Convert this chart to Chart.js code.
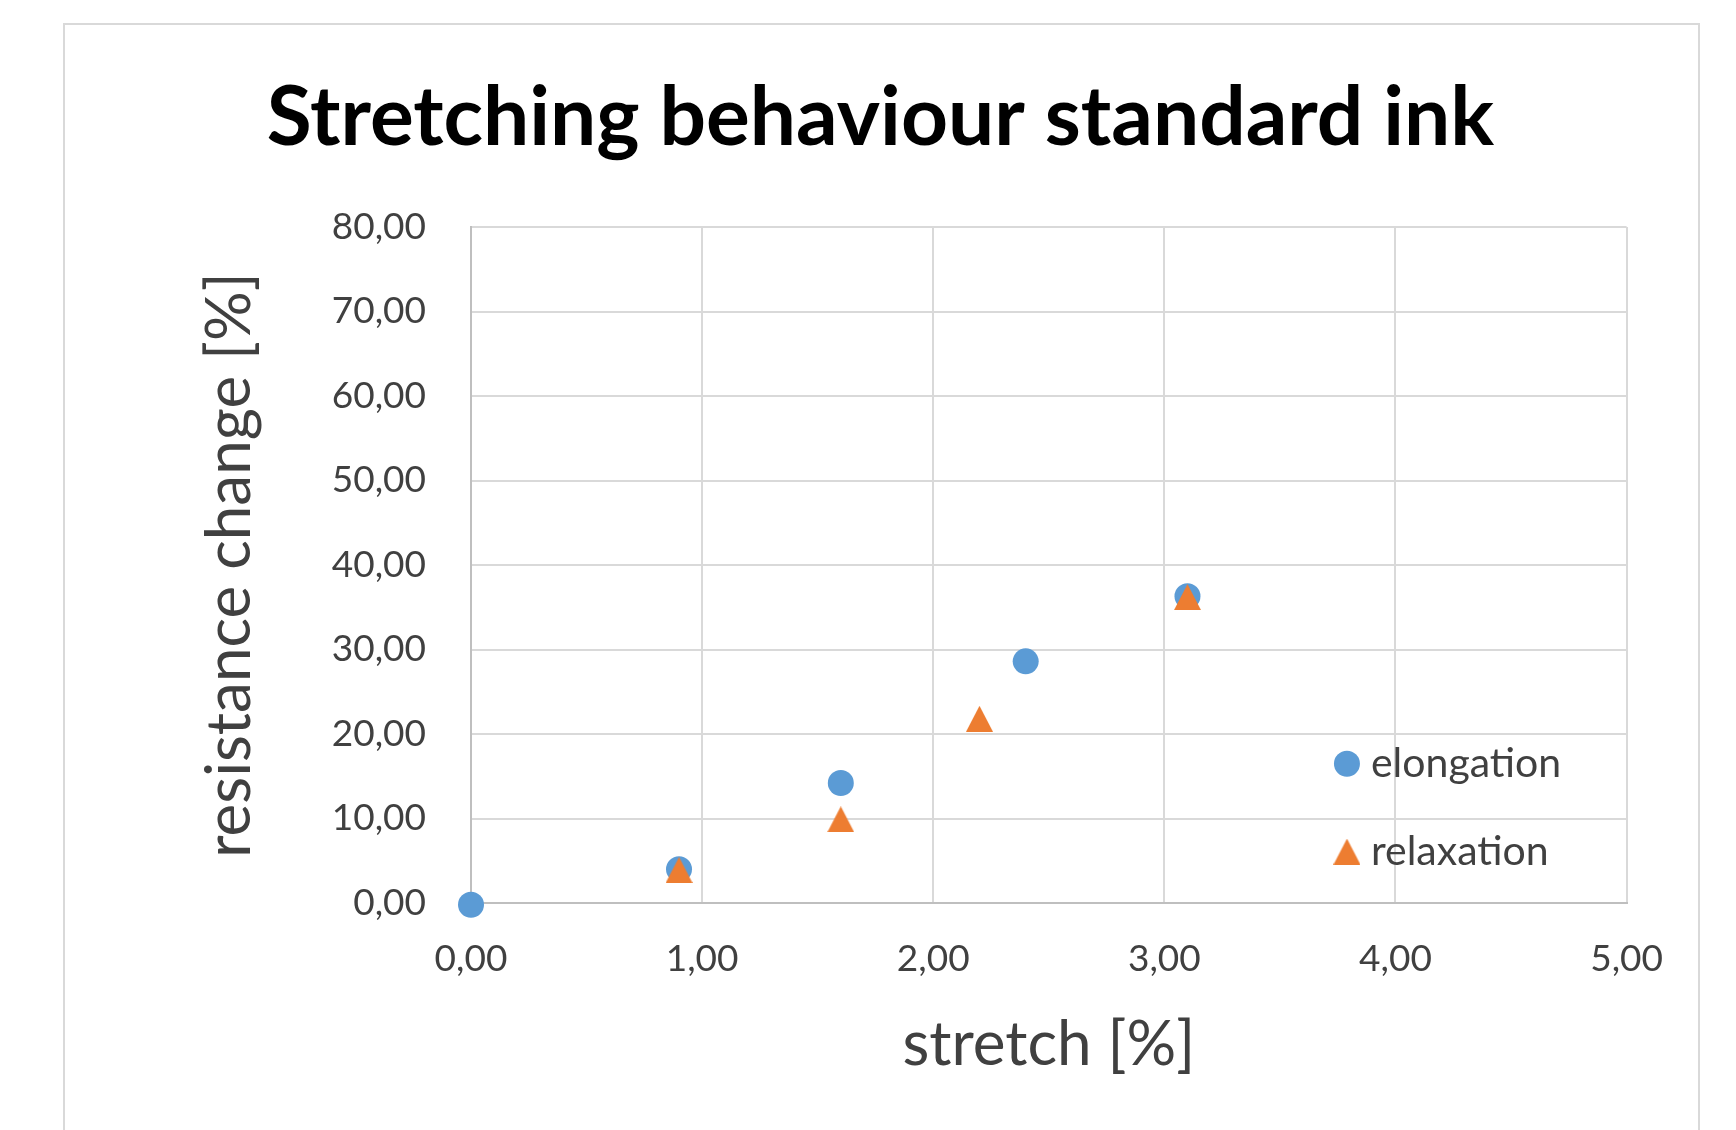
<!DOCTYPE html>
<html>
<head>
<meta charset="utf-8">
<script src="https://cdn.jsdelivr.net/npm/chart.js@4"></script>
<style>
  html, body { margin: 0; padding: 0; background: #fff; overflow: hidden; }
  #frame { position: absolute; left: 63px; top: 23px; width: 1633px; height: 1200px;
           border: 2px solid #D9D9D9; border-bottom: none; }
  #box { position: absolute; left: 64px; top: 24px; width: 1633px; height: 1106px; }
</style>
</head>
<body>
<div id="frame"></div>
<div id="box"><canvas id="stretchChart"></canvas></div>
<script>
// values
const elongationX = [0.00, 0.90, 1.60, 2.40, 3.10];
const elongationY = [-0.2, 4.00, 14.2, 28.6, 36.3];
const relaxationX = [0.90, 1.60, 2.20, 3.10];
const relaxationY = [3.9, 9.9, 21.8, 36.2];
const seriesNames = ['elongation', 'relaxation'];
const xTicks = [0, 1, 2, 3, 4, 5];
const yTicks = [0, 10, 20, 30, 40, 50, 60, 70, 80];

const BLUE = '#5B9BD5';
const ORANGE = '#ED7D31';
const TEXT = '#404040';
const FONT = 'Lato, "Open Sans", sans-serif';

function toPoints(xs, ys) {
    return xs.map((x, i) => ({ x: x, y: ys[i] }));
}

// Excel style triangle: centred on its bounding box
function makeTriangle(w, h, color) {
    const c = document.createElement('canvas');
    c.width = w; c.height = h;
    const g = c.getContext('2d');
    g.fillStyle = color;
    g.beginPath();
    g.moveTo(w / 2, 0);
    g.lineTo(w, h);
    g.lineTo(0, h);
    g.closePath();
    g.fill();
    return c;
}
const triangle = makeTriangle(27, 26, ORANGE);

const commaFmt = v => Number(v).toFixed(2).replace('.', ',');

// legend drawn inside the plot area, lower right
const insideLegend = {
    id: 'insideLegend',
    afterDraw(chart) {
        const { ctx, chartArea } = chart;
        const x0 = chartArea.left + (chartArea.right - chartArea.left) * 0.758;
        const rows = [chartArea.top + (chartArea.bottom - chartArea.top) * 0.794,
                      chartArea.top + (chartArea.bottom - chartArea.top) * 0.924];
        ctx.save();
        ctx.font = '41px ' + FONT;
        ctx.textBaseline = 'middle';
        ctx.textAlign = 'left';
        ctx.beginPath();
        ctx.fillStyle = BLUE;
        ctx.arc(x0, rows[0], 13, 0, Math.PI * 2);
        ctx.fill();
        ctx.drawImage(triangle, x0 - triangle.width / 2, rows[1] - triangle.height / 2);
        ctx.fillStyle = TEXT;
        ctx.fillText(seriesNames[0], x0 + 24, rows[0]);
        ctx.fillText(seriesNames[1], x0 + 24, rows[1]);
        ctx.restore();
    }
};

new Chart(document.getElementById('stretchChart'), {
    type: 'scatter',
    data: {
        datasets: [{
            label: seriesNames[0],
            data: toPoints(elongationX, elongationY),
            pointStyle: 'circle',
            pointRadius: 13,
            pointHoverRadius: 13,
            backgroundColor: BLUE,
            borderColor: BLUE,
            borderWidth: 0,
            clip: false,
            order: 1
        }, {
            label: seriesNames[1],
            data: toPoints(relaxationX, relaxationY),
            pointStyle: triangle,
            pointRadius: 13,
            backgroundColor: ORANGE,
            borderColor: ORANGE,
            clip: false,
            order: 0
        }]
    },
    options: {
        responsive: true,
        maintainAspectRatio: false,
        animation: false,
        layout: { padding: { left: 69, right: 69, top: 0, bottom: 0 } },
        plugins: {
            legend: { display: false },
            tooltip: { enabled: false },
            title: {
                display: true,
                text: 'Stretching behaviour standard ink',
                color: '#000',
                font: { family: FONT, size: 82, weight: 'bold', lineHeight: 1.2 },
                padding: { top: 45, bottom: 59.6 }
            }
        },
        scales: {
            x: {
                type: 'linear',
                min: 0, max: 5,
                afterBuildTicks: s => { s.ticks = xTicks.map(v => ({ value: v })); },
                afterFit: s => { s.height = 227; },
                ticks: { callback: commaFmt, color: TEXT, padding: 34,
                         font: { family: FONT, size: 37 } },
                grid: { color: '#D9D9D9', lineWidth: 2, drawTicks: false },
                border: { color: '#BFBFBF', width: 2 },
                title: { display: true, text: 'stretch [%]', color: TEXT,
                         font: { family: FONT, size: 62, lineHeight: 1.2 },
                         padding: { top: 0, bottom: 48 } }
            },
            y: {
                type: 'linear',
                min: 0, max: 80,
                afterBuildTicks: s => { s.ticks = yTicks.map(v => ({ value: v })); },
                afterFit: s => { s.width = 338; },
                ticks: { callback: commaFmt, color: TEXT, padding: 45,
                         font: { family: FONT, size: 37 } },
                grid: { color: '#D9D9D9', lineWidth: 2, drawTicks: false },
                border: { color: '#BFBFBF', width: 2 },
                title: { display: true, text: 'resistance change [%]', color: TEXT,
                         font: { family: FONT, size: 62, lineHeight: 1.2 },
                         padding: { top: 60, bottom: 0 } }
            }
        }
    },
    plugins: [insideLegend]
});
</script>
</body>
</html>
